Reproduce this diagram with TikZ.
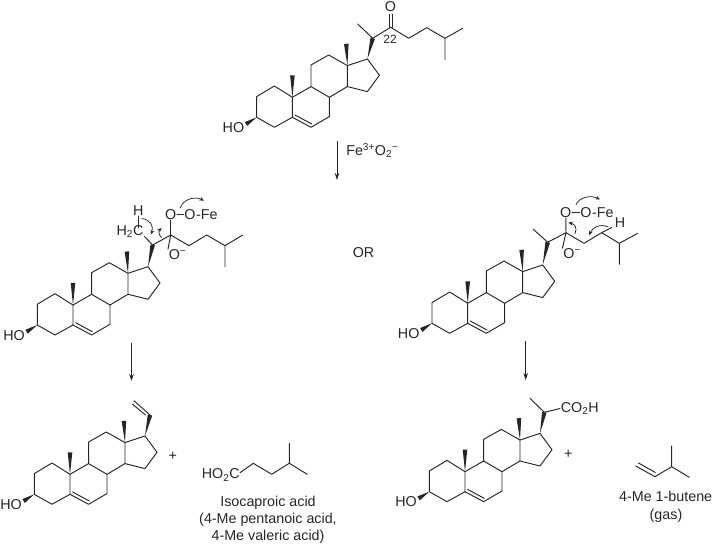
\documentclass[tikz,border=0pt]{standalone}
\usepackage{fontspec}
\setmainfont{Liberation Sans}
\usetikzlibrary{arrows.meta,calc}
\definecolor{ink}{HTML}{262626}
\newcommand{\wdg}[2]{\fill[ink] (#1) -- ($(#2)!2.3pt!90:(#1)$) -- ($(#2)!2.3pt!-90:(#1)$) -- cycle;}
\tikzset{
  bond/.style={draw=ink,line width=0.95pt,line join=round,line cap=round},
  lab/.style={font=\fontsize{14.3}{16}\selectfont,text=ink,inner sep=0.6pt},
  captext/.style={font=\fontsize{14.3}{16}\selectfont,text=ink,inner sep=0pt,anchor=base,align=center},
  rxn/.style={draw=ink,line width=0.75pt,-{Stealth[length=7pt,width=4.5pt]}},
  curl/.style={draw=ink,line width=0.75pt,-{Stealth[length=4.5pt,width=3.8pt]}},
  steroid/.pic={
    \coordinate (-C3) at (0,0); \coordinate (-C2) at (0,-20.7); \coordinate (-C1) at (17.7,-31.3);
    \coordinate (-C10) at (35.7,-20); \coordinate (-C5) at (35.7,0); \coordinate (-C4) at (17.7,10);
    \coordinate (-C6) at (54.3,10); \coordinate (-C7) at (72.7,-0.7); \coordinate (-C8) at (72.7,-20);
    \coordinate (-C9) at (54.3,-30.7); \coordinate (-C11) at (54.3,-52.3); \coordinate (-C12) at (72,-62.3);
    \coordinate (-C13) at (90.7,-51.7); \coordinate (-C14) at (90.7,-30.7); \coordinate (-C15) at (110.7,-25.7);
    \coordinate (-C16) at (122.7,-42); \coordinate (-C17) at (110.7,-58.3);
    \coordinate (-C18) at (89.6,-73.5); \coordinate (-C19) at (35.7,-42);
    \coordinate (-W) at (-10.7,6.7);
    \coordinate (-D1) at (38.3,-2.3); \coordinate (-D2) at (55,6.7);
    \node[lab] (-HO) at (-23.3,10.3) {HO};
    \draw[bond] (-C3) -- (-C2) -- (-C1) -- (-C10) -- (-C5) -- (-C4) -- (-C3);
    \draw[bond] (-C5) -- (-C6) -- (-C7) -- (-C8) -- (-C9) -- (-C10);
    \draw[bond] (-C9) -- (-C11) -- (-C12) -- (-C13) -- (-C14) -- (-C8);
    \draw[bond] (-C14) -- (-C15) -- (-C16) -- (-C17) -- (-C13);
    \draw[bond] (-D1) -- (-D2);
    \wdg{-C3}{-W}
    \wdg{-C10}{-C19}
    \wdg{-C13}{-C18}
  }
}
\begin{document}
\begin{tikzpicture}[x=1pt,y=-1pt]
\useasboundingbox (0,0) rectangle (713,545);
% ---------- top
\pic (a) at (256.7,117.3) {steroid};
\coordinate (a20) at (372.7,38.3); \coordinate (a21) at (357.7,24); \coordinate (a22) at (390.7,27.3);
\coordinate (a23) at (408.7,38.3); \coordinate (a24) at (426.7,27.7); \coordinate (a25) at (445,38.3);
\coordinate (a26) at (445,59.3); \coordinate (a27) at (462.7,28.3);
\node[lab] (aO) at (390.5,7) {O};
\node[font=\fontsize{12}{14}\selectfont,text=ink,inner sep=0pt] (a22l) at (390,39.5) {22};
\wdg{a-C17}{a20}
\draw[bond] (a21) -- (a20) -- (a22) -- (a23) -- (a24) -- (a25) -- (a26) (a25) -- (a27);
\draw[bond] ([xshift=-1.5pt]a22) -- ([xshift=-1.5pt,yshift=13pt]a22);
\draw[bond] ([xshift=1.5pt]a22) -- ([xshift=1.5pt,yshift=13pt]a22);
\coordinate (r1s) at (337,140.7); \coordinate (r1e) at (337,180);
\draw[rxn] (r1s) -- (r1e);
\node[lab,anchor=west] (fe) at (345.5,150.5) {Fe\textsuperscript{3+}O\textsubscript{2}\textsuperscript{−}};
% ---------- middle left
\pic (b) at (37.3,325) {steroid};
\coordinate (b20) at (152.7,245); \coordinate (b22) at (170.7,235); \coordinate (b23) at (189,245.7);
\coordinate (b24) at (206.7,235); \coordinate (b25) at (225,245.7); \coordinate (b26) at (225,266.7);
\coordinate (b27) at (242.7,235); \coordinate (bCH) at (144.5,236.5);
\node[lab] (bH2C) at (130,231.7) {H\textsubscript{2}C};
\node[lab] (bH) at (138.3,210.5) {H};
\node[lab] (bO1) at (170.7,214.3) {O};
\node[lab] (bO2) at (190,214.3) {O};
\node[lab,anchor=west] (bFe) at (195.4,214.3) {-Fe};
\node[lab] (bOm) at (177.5,255) {O\textsuperscript{−}};
\wdg{b-C17}{b20}
\draw[bond] (bCH) -- (b20) -- (b22) -- (b23) -- (b24) -- (b25) -- (b26) (b25) -- (b27);
\draw[bond] (b22) -- (bO1);
\draw[bond] (b22) -- (bOm.north west);
\draw[bond] (bO1) -- (bO2);
\draw[bond] (bH) -- ([yshift=-3pt]bH2C.north -| bH);
\draw[curl] (141.7,218.5) .. controls (150,219.5) and (154,226) .. (151,234.5);
\draw[curl] (161.7,237.7) .. controls (158.5,235) and (158.5,231) .. (161.7,228);
\draw[curl] (180,208.3) .. controls (183,199) and (195,196) .. (204,200.7);
\coordinate (r2s) at (131.5,343); \coordinate (r2e) at (131.5,381);
\draw[rxn] (r2s) -- (r2e);
\node[lab] (or) at (363.5,252.5) {OR};
% ---------- middle right
\pic (c) at (432,323.3) {steroid};
\coordinate (c20) at (547.7,242.3); \coordinate (c21) at (533.3,229.3); \coordinate (c22) at (566,232.7);
\coordinate (c23) at (584,243.3); \coordinate (c24) at (601.7,232.7); \coordinate (c25) at (619.3,243.3);
\coordinate (c26) at (619.3,264.3); \coordinate (c27) at (637.7,233.3); \coordinate (cHb) at (611.5,227.5);
\node[lab] (cO1) at (565.7,212.3) {O};
\node[lab] (cO2) at (586,212.3) {O};
\node[lab,anchor=west] (cFe) at (591.4,212.3) {-Fe};
\node[lab] (cH) at (620,222.7) {H};
\node[lab] (cOm) at (572,254) {O\textsuperscript{−}};
\wdg{c-C17}{c20}
\draw[bond] (c21) -- (c20) -- (c22) -- (c23) -- (c24) -- (c25) -- (c26) (c25) -- (c27);
\draw[bond] (c24) -- (cHb);
\draw[bond] (c22) -- (cO1);
\draw[bond] (c22) -- (cOm.north west);
\draw[bond] (cO1) -- (cO2);
\draw[curl] (576,204.7) .. controls (579,197) and (591,195) .. (600,199.5);
\draw[curl] (575,233.7) .. controls (577.5,228) and (575,224) .. (568.3,222.7);
\draw[curl] (608.3,227) .. controls (600,223) and (592,228) .. (589.3,235.3);
\coordinate (r3s) at (525.7,341); \coordinate (r3e) at (525.7,380);
\draw[rxn] (r3s) -- (r3e);
% ---------- bottom left
\pic (d) at (34.3,494.3) {steroid};
\coordinate (d20) at (150,415); \coordinate (dv1) at (134,400.7); \coordinate (dv2a) at (145.5,415); \coordinate (dv2b) at (132.3,404);
\wdg{d-C17}{d20}
\draw[bond] (dv1) -- (d20);
\draw[bond] (dv2a) -- (dv2b);
\node[lab] (dplus) at (172.7,456) {+};
\node[lab] (dacid) at (220.8,475) {HO\textsubscript{2}C};
\coordinate (e1) at (240,472.7); \coordinate (e2) at (253.3,463.3); \coordinate (e3) at (271.7,474.3);
\coordinate (e4) at (289.3,463.3); \coordinate (e5) at (289.3,443.3); \coordinate (e6) at (307.3,474.3);
\draw[bond] (e1) -- (e2) -- (e3) -- (e4) -- (e5) (e4) -- (e6);
\node[captext] (t1) at (268,507) {Isocaproic acid};
\node[captext] (t2) at (268,524) {(4-Me pentanoic acid,};
\node[captext] (t3) at (268,540.5) {4-Me valeric acid)};
% ---------- bottom right
\pic (f) at (429.3,491.7) {steroid};
\coordinate (f20) at (544.3,412.3); \coordinate (f21) at (530,398.3);
\node[lab,anchor=west] (fco) at (560,408.5) {CO\textsubscript{2}H};
\wdg{f-C17}{f20}
\draw[bond] (f21) -- (f20) -- (fco.west);
\node[lab] (fplus) at (568.3,454) {+};
\coordinate (g1) at (635.7,466); \coordinate (g2) at (655,476.7); \coordinate (g3) at (671.7,466.7);
\coordinate (g4) at (671.7,446); \coordinate (g5) at (689.3,477.3);
\coordinate (g1b) at (638.5,463); \coordinate (g2b) at (655.3,472.5);
\draw[bond] (g1) -- (g2) -- (g3) -- (g4) (g3) -- (g5);
\draw[bond] (g1b) -- (g2b);
\node[captext] (t4) at (665.7,502) {4-Me 1-butene};
\node[captext] (t5) at (666,519) {(gas)};
\end{tikzpicture}
\end{document}
